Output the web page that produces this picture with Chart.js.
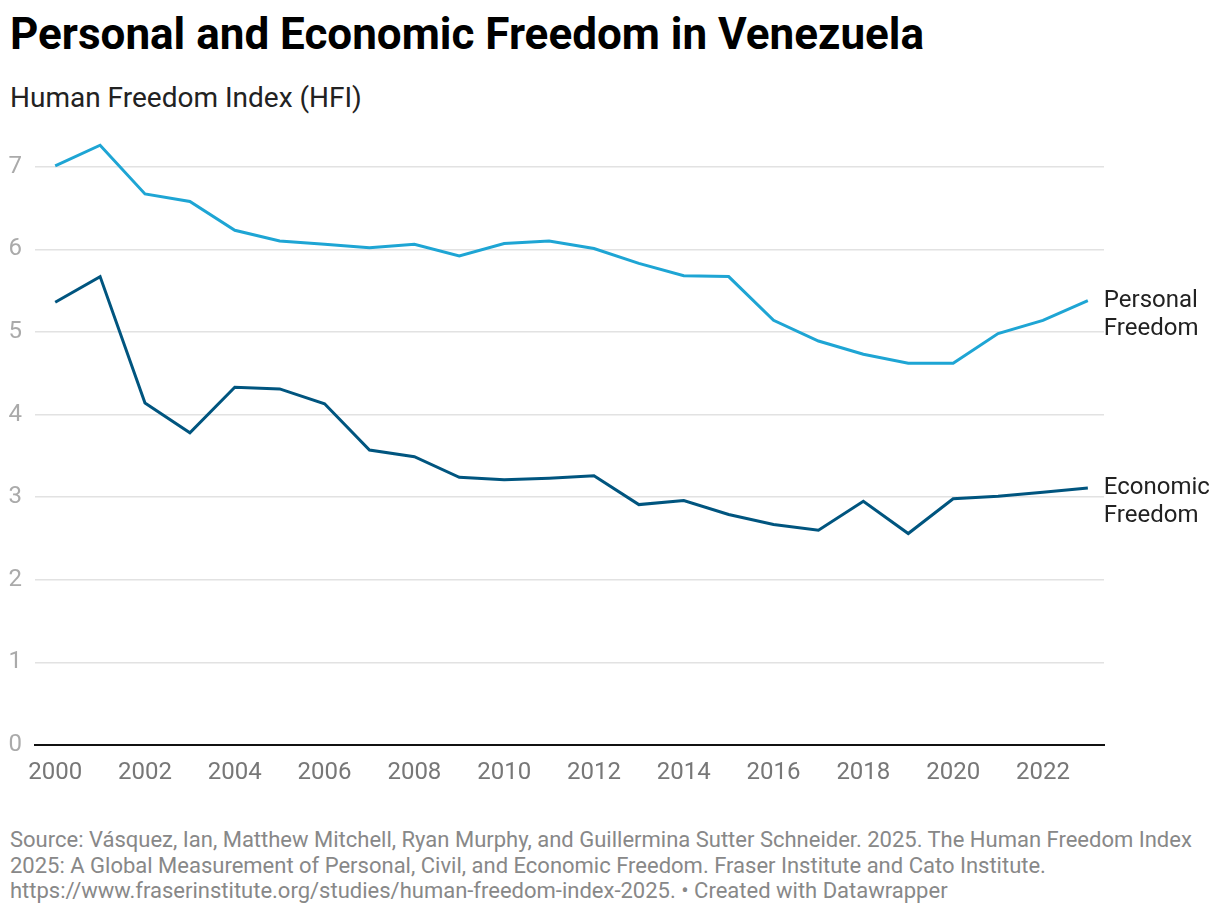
<!DOCTYPE html>
<html>
<head>
<meta charset="utf-8">
<script src="https://cdn.jsdelivr.net/npm/chart.js@4"></script>
<style>
  body { margin: 0; background: #fff; font-family: Roboto, sans-serif; }
  #wrap { position: relative; width: 1220px; height: 914px; }
  #title { position: absolute; left: 10px; top: 8px; font-size: 44px; font-weight: 700; color: #000; white-space: nowrap; }
  #subtitle { position: absolute; left: 10px; top: 81px; font-size: 28px; color: #222; white-space: nowrap; }
  #chartBox { position: absolute; left: 0; top: 98px; width: 1220px; height: 687px; }
  #source { position: absolute; left: 10px; top: 827px; font-size: 22px; line-height: 25.5px; color: #888; white-space: nowrap; }
</style>
</head>
<body>
<div id="wrap">
  <div id="title">Personal and Economic Freedom in Venezuela</div>
  <div id="subtitle">Human Freedom Index (HFI)</div>
  <div id="chartBox"><canvas id="chart"></canvas></div>
  <div id="source">Source: Vásquez, Ian, Matthew Mitchell, Ryan Murphy, and Guillermina Sutter Schneider. 2025. The Human Freedom Index<br>2025: A Global Measurement of Personal, Civil, and Economic Freedom. Fraser Institute and Cato Institute.<br>https://www.fraserinstitute.org/studies/human-freedom-index-2025. • Created with Datawrapper</div>
</div>
<script>
// Data
const years = [2000, 2001, 2002, 2003, 2004, 2005, 2006, 2007, 2008, 2009, 2010, 2011,
               2012, 2013, 2014, 2015, 2016, 2017, 2018, 2019, 2020, 2021, 2022, 2023];
const personal = [7.01, 7.26, 6.67, 6.58, 6.23, 6.10, 6.06, 6.02, 6.06, 5.92, 6.07, 6.10,
                  6.01, 5.83, 5.68, 5.67, 5.14, 4.89, 4.73, 4.62, 4.62, 4.98, 5.14, 5.38];
const economic = [5.36, 5.67, 4.14, 3.78, 4.33, 4.31, 4.13, 3.57, 3.49, 3.24, 3.21, 3.23,
                  3.26, 2.91, 2.96, 2.79, 2.67, 2.60, 2.95, 2.56, 2.98, 3.01, 3.06, 3.11];
const xTicks = [2000, 2002, 2004, 2006, 2008, 2010, 2012, 2014, 2016, 2018, 2020, 2022];
const yTicks = [0, 1, 2, 3, 4, 5, 6, 7];
const seriesLabels = [["Personal", "Freedom"], ["Economic", "Freedom"]];

const toPoints = vals => vals.map((v, i) => ({ x: years[i], y: v }));

// end-of-line labels, drawn next to the last point of each series
const endLabels = {
  id: "endLabels",
  afterDatasetsDraw(chart) {
    const ctx = chart.ctx;
    ctx.save();
    ctx.font = "24px Roboto";
    ctx.fillStyle = "#222";
    ctx.textBaseline = "middle";
    chart.data.datasets.forEach((ds, i) => {
      const meta = chart.getDatasetMeta(i);
      const last = meta.data[meta.data.length - 1];
      seriesLabels[i].forEach((line, j) => {
        ctx.fillText(line, last.x + 16, last.y + j * 28);
      });
    });
    ctx.restore();
  }
};

new Chart(document.getElementById("chart"), {
  type: "line",
  data: {
    datasets: [
      { label: "Personal Freedom", data: toPoints(personal), borderColor: "#1ea5d4", borderWidth: 3, pointRadius: 0, tension: 0, clip: false },
      { label: "Economic Freedom", data: toPoints(economic), borderColor: "#00557f", borderWidth: 3, pointRadius: 0, tension: 0, clip: false }
    ]
  },
  options: {
    responsive: true,
    maintainAspectRatio: false,
    animation: false,
    layout: { padding: { top: 5, right: 116, bottom: 0, left: 0 } },
    plugins: { legend: { display: false }, tooltip: { enabled: false } },
    scales: {
      x: {
        type: "linear",
        min: 1999.55,
        max: 2023.36,
        afterBuildTicks: s => { s.ticks = xTicks.map(v => ({ value: v })); },
        afterFit: s => { s.height = 40; },
        grid: { display: false, drawTicks: false },
        border: { display: true, color: "#111", width: 2 },
        ticks: { padding: 14, color: "#777", font: { family: "Roboto", size: 24 }, maxRotation: 0, autoSkip: false, callback: v => String(v) }
      },
      y: {
        min: 0,
        max: 7.5,
        afterBuildTicks: s => { s.ticks = yTicks.map(v => ({ value: v })); },
        afterFit: s => { s.width = 35; },
        grid: { color: "#e2e2e2", lineWidth: 1.5, drawTicks: false },
        border: { display: false },
        ticks: { padding: 13, color: "#aaa", font: { family: "Roboto", size: 24 } }
      }
    }
  },
  plugins: [endLabels]
});
</script>
</body>
</html>
